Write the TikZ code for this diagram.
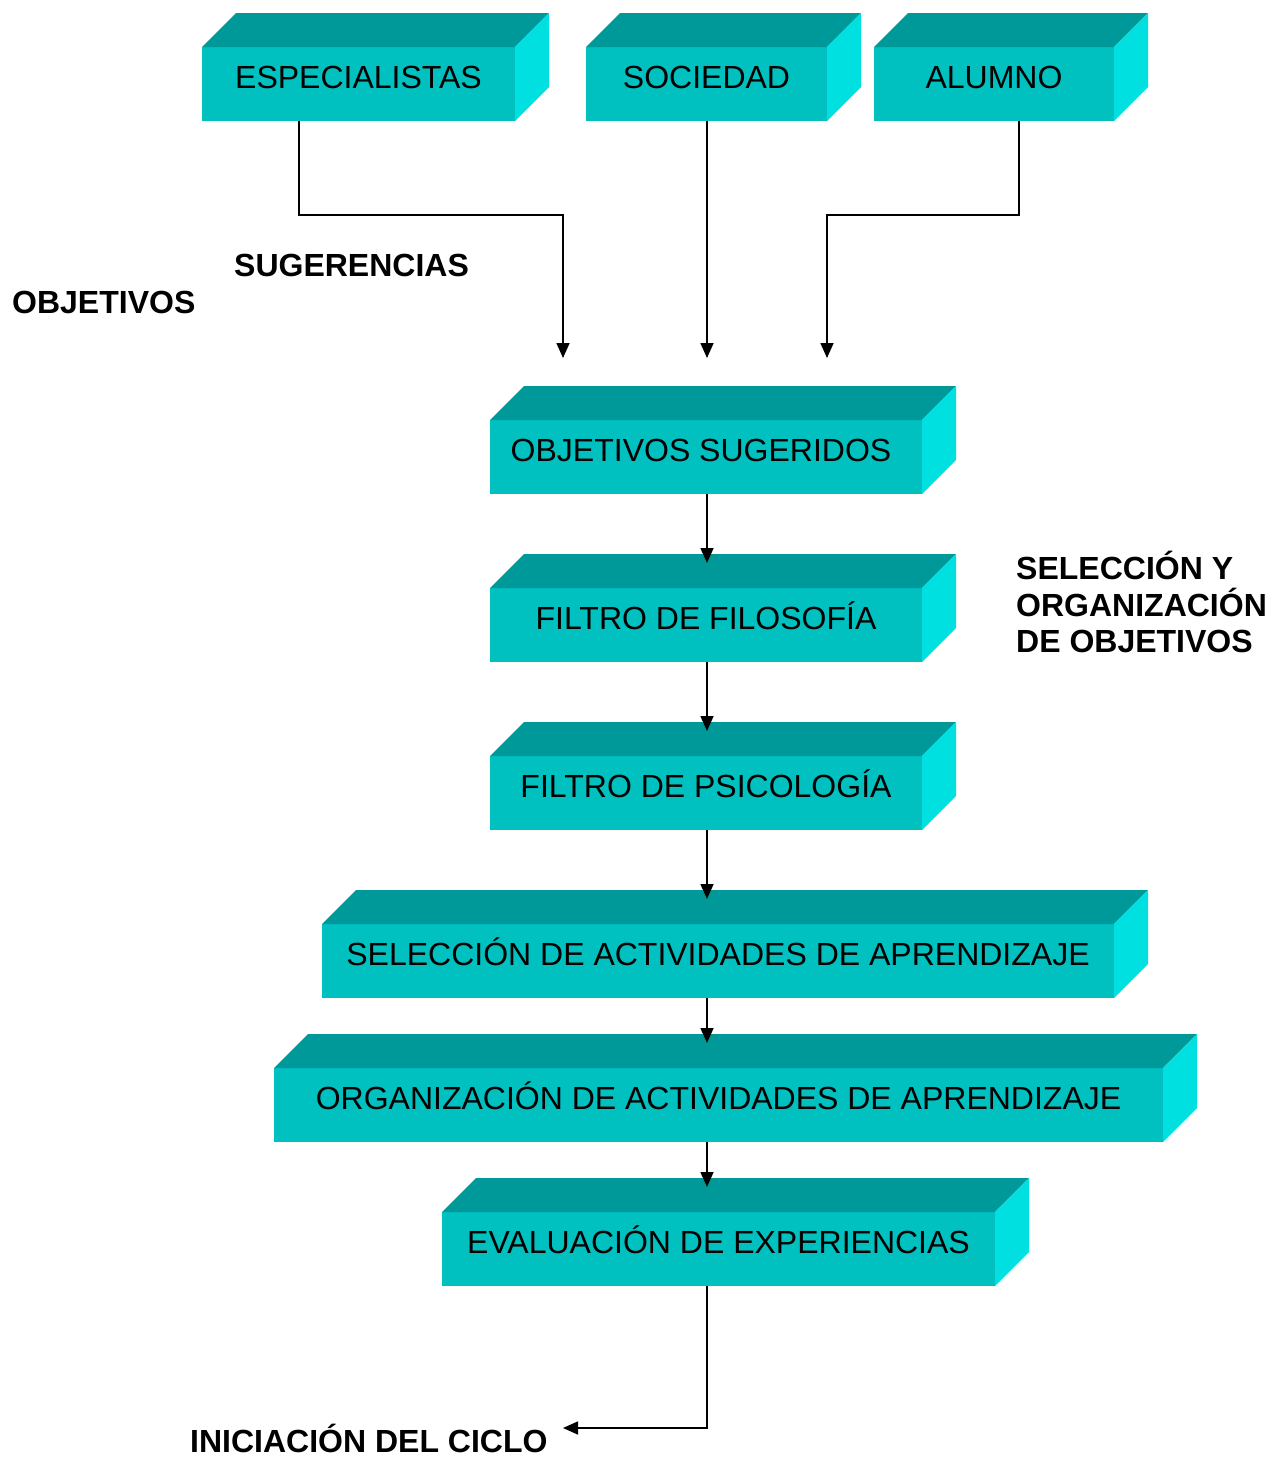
\documentclass[tikz,border=0pt]{standalone}
\usepackage{fontspec}
\setmainfont{Liberation Sans}
\usetikzlibrary{calc,arrows.meta}
\definecolor{frontc}{RGB}{0,192,192}
\definecolor{topc}{RGB}{0,153,153}
\definecolor{sidec}{RGB}{0,224,224}
\tikzset{
  front/.style={fill=frontc, draw=none, inner sep=0pt, outer sep=0pt, minimum height=74pt, anchor=north west},
  boxtext/.style={font=\fontsize{32}{36}\selectfont, anchor=base, inner sep=0pt},
  lab/.style={font=\fontsize{32}{36.5}\selectfont\bfseries, anchor=base west, inner sep=0pt, align=left},
  conn/.style={draw=black, line width=1.6pt, -{Triangle[length=15pt,width=13pt]}},
}
\newcommand\cubebox[6][0]{%
  \node[front, minimum width={(#4-#3)*1pt}] (#2) at (#3,#5) {};
  \fill[topc] (#2.north west) -- ++(34,-34) -- ($(#2.north east)+(34,-34)$) -- (#2.north east) -- cycle;
  \fill[sidec] (#2.north east) -- ++(34,-34) -- ($(#2.south east)+(34,-34)$) -- (#2.south east) -- cycle;
  \node[boxtext] (#2-t) at ($(#2.north)+(#1,41)$) {#6};
}
\begin{document}
\begin{tikzpicture}[x=1pt,y=-1pt]
\useasboundingbox (0,0) rectangle (1285,1457);
\cubebox{esp}{202}{515}{47}{ESPECIALISTAS}
\cubebox{soc}{586}{827}{47}{SOCIEDAD}
\cubebox{alu}{874}{1114}{47}{ALUMNO}
\cubebox[-5]{obj}{490}{922}{420}{OBJETIVOS SUGERIDOS}
\cubebox{fil}{490}{922}{588}{FILTRO DE FILOSOFÍA}
\cubebox{psi}{490}{922}{756}{FILTRO DE PSICOLOGÍA}
\cubebox{sel}{322}{1114}{924}{SELECCIÓN DE ACTIVIDADES DE APRENDIZAJE}
\cubebox{org}{274}{1163}{1068}{ORGANIZACIÓN DE ACTIVIDADES DE APRENDIZAJE}
\cubebox{eva}{442}{995}{1212}{EVALUACIÓN DE EXPERIENCIAS}

\node[lab] (sug) at (234,276) {SUGERENCIAS};
\node[lab] (objl) at (12,313) {OBJETIVOS};
\node[lab, anchor=north west] (selo) at (1016,551) {SELECCIÓN Y\\ORGANIZACIÓN\\DE OBJETIVOS};
\node[lab] (ini) at (190,1452) {INICIACIÓN DEL CICLO};

\coordinate (in1) at (563,358);
\coordinate (in2) at (707,358);
\coordinate (in3) at (827,358);
\coordinate (col) at (707,0);
\coordinate (fin) at (563,1428);

\draw[conn] ([xshift=97pt]esp.south west) -- ++(0,94) -| (in1);
\draw[conn] (col |- soc.south) -- (in2);
\draw[conn] ([xshift=145pt]alu.south west) -- ++(0,94) -| (in3);
\draw[conn] (col |- obj.south) -- ([yshift=25pt]col |- fil.north);
\draw[conn] (col |- fil.south) -- ([yshift=25pt]col |- psi.north);
\draw[conn] (col |- psi.south) -- ([yshift=25pt]col |- sel.north);
\draw[conn] (col |- sel.south) -- ([yshift=25pt]col |- org.north);
\draw[conn] (col |- org.south) -- ([yshift=25pt]col |- eva.north);
\draw[conn] (col |- eva.south) |- (fin);
\end{tikzpicture}
\end{document}
